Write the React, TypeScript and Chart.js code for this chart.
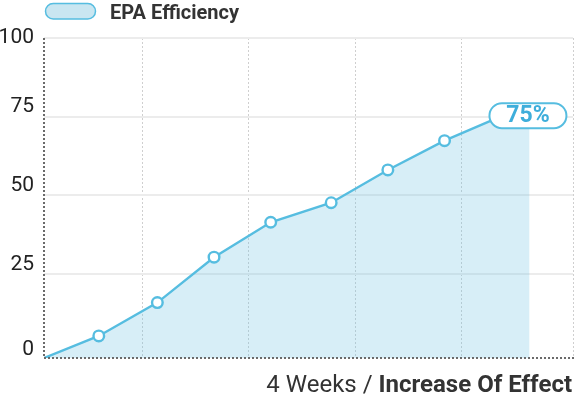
import React, { useEffect, useRef } from 'react';
import { Chart, registerables } from 'chart.js';

Chart.register(...registerables);

// ---- data ----
const datasetLabel = 'EPA Efficiency';
const xValues = [0, 2.9, 6.0, 9.0, 12.0, 15.2, 18.2, 21.2, 25.7];
const yValues = [-1.6, 5.4, 16.0, 30.4, 41.5, 47.7, 58.1, 67.4, 79];
const yTickValues = [0, 25, 50, 75, 100];
const xGridValues = [5.2, 10.8, 16.5, 22.1, 28];
const yMin = -1.6;
const yMax = 100;
const xMin = 0;
const xMax = 28;
const xTitleLight = '4 Weeks / ';
const xTitleBold = 'Increase Of Effect';
const peakLabel = '75%';
const peakLabelValue = 75;

const LINE = '#56bde0';
const FONT = 'Roboto, "Noto Sans", sans-serif';

const decorPlugin = {
  id: 'decor',
  afterDatasetsDraw(chart: any) {
    const { ctx, chartArea, scales } = chart;
    const { left, top, bottom } = chartArea;
    ctx.save();
    // dotted axes
    ctx.setLineDash([2, 2]);
    ctx.strokeStyle = '#6a6a6a';
    ctx.lineWidth = 2;
    ctx.beginPath();
    ctx.moveTo(left, top);
    ctx.lineTo(left, bottom);
    ctx.stroke();
    ctx.beginPath();
    ctx.moveTo(left, bottom);
    ctx.lineTo(chart.width, bottom);
    ctx.stroke();
    ctx.setLineDash([]);

    // peak label pill
    const xs = scales.x;
    const ys = scales.y;
    const last = xValues.length - 1;
    const cx = xs.getPixelForValue(xValues[last]) - 1.6;
    const cy = ys.getPixelForValue(peakLabelValue) - 1;
    const w = 77;
    const h = 25;
    ctx.beginPath();
    (ctx as any).roundRect(cx - w / 2, cy - h / 2, w, h, h / 2);
    ctx.fillStyle = '#ffffff';
    ctx.fill();
    ctx.lineWidth = 2;
    ctx.strokeStyle = LINE;
    ctx.stroke();
    ctx.font = `bold 23px ${FONT}`;
    ctx.fillStyle = '#3eaedb';
    ctx.textAlign = 'center';
    ctx.textBaseline = 'middle';
    ctx.fillText(peakLabel, cx, cy + 1);
    ctx.restore();
  },
  afterDraw(chart: any) {
    const { ctx, chartArea, scales } = chart;
    const ys = scales.y;
    ctx.save();
    // y tick labels
    ctx.font = `21px ${FONT}`;
    ctx.fillStyle = '#222222';
    ctx.textAlign = 'right';
    ctx.textBaseline = 'alphabetic';
    yTickValues.forEach((v, i) => {
      const px = ys.getPixelForValue(v);
      let base = px - 4.5;
      if (i === 0) base = chartArea.bottom - 3;
      if (i === yTickValues.length - 1) base = chartArea.top + 5;
      ctx.fillText(String(v), 34, base);
    });

    // legend
    ctx.beginPath();
    (ctx as any).roundRect(45.5, 3.5, 50, 15.5, 7.75);
    ctx.fillStyle = '#c9e6f1';
    ctx.fill();
    ctx.lineWidth = 1.5;
    ctx.strokeStyle = LINE;
    ctx.stroke();
    ctx.font = `bold 20px ${FONT}`;
    ctx.fillStyle = '#333333';
    ctx.textAlign = 'left';
    ctx.fillText(datasetLabel, 110, 19);

    // x axis title
    const right = chartArea.right - 1;
    const baseY = 391.5;
    ctx.textAlign = 'right';
    ctx.font = `bold 24px ${FONT}`;
    ctx.fillStyle = '#333333';
    ctx.fillText(xTitleBold, right, baseY);
    const bw = ctx.measureText(xTitleBold).width;
    ctx.font = `24px ${FONT}`;
    ctx.fillText(xTitleLight, right - bw, baseY);
    ctx.restore();
  },
};

export default function App() {
  const ref = useRef<HTMLCanvasElement | null>(null);

  useEffect(() => {
    document.body.style.margin = '0';
    if (!ref.current) return;
    const last = xValues.length - 1;
    const chart = new Chart(ref.current, {
      type: 'line',
      data: {
        datasets: [
          {
            label: datasetLabel,
            data: xValues.map((x, i) => ({ x, y: yValues[i] })),
            borderColor: LINE,
            borderWidth: 2.4,
            backgroundColor: 'rgba(110,195,225,0.28)',
            fill: 'start',
            tension: 0,
            pointRadius: xValues.map((_, i) => (i === 0 || i === last ? 0 : 5.3)),
            pointBackgroundColor: '#ffffff',
            pointBorderColor: LINE,
            pointBorderWidth: 2.4,
          },
        ],
      },
      options: {
        animation: false,
        responsive: true,
        maintainAspectRatio: false,
        layout: { padding: { left: 44, top: 38, right: 2, bottom: 40 } },
        plugins: {
          legend: { display: false },
          tooltip: { enabled: false },
        },
        scales: {
          x: {
            type: 'linear',
            min: xMin,
            max: xMax,
            ticks: { display: false },
            afterBuildTicks: (scale: any) => {
              scale.ticks = xGridValues.map((v) => ({ value: v }));
            },
            grid: { color: '#cfcfcf', lineWidth: 1, drawTicks: false },
            border: { display: false, dash: [2, 2] },
          },
          y: {
            type: 'linear',
            min: yMin,
            max: yMax,
            ticks: { display: false },
            afterBuildTicks: (scale: any) => {
              scale.ticks = yTickValues.map((v) => ({ value: v }));
            },
            grid: {
              color: (c: any) => (c.tick && c.tick.value === 0 ? 'rgba(0,0,0,0)' : '#ececec'),
              lineWidth: 2,
              drawTicks: false,
            },
            border: { display: false },
          },
        },
      },
      plugins: [decorPlugin],
    });
    return () => chart.destroy();
  }, []);

  return (
    <div style={{ position: 'relative', width: 575, height: 398 }}>
      <canvas ref={ref} />
    </div>
  );
}
